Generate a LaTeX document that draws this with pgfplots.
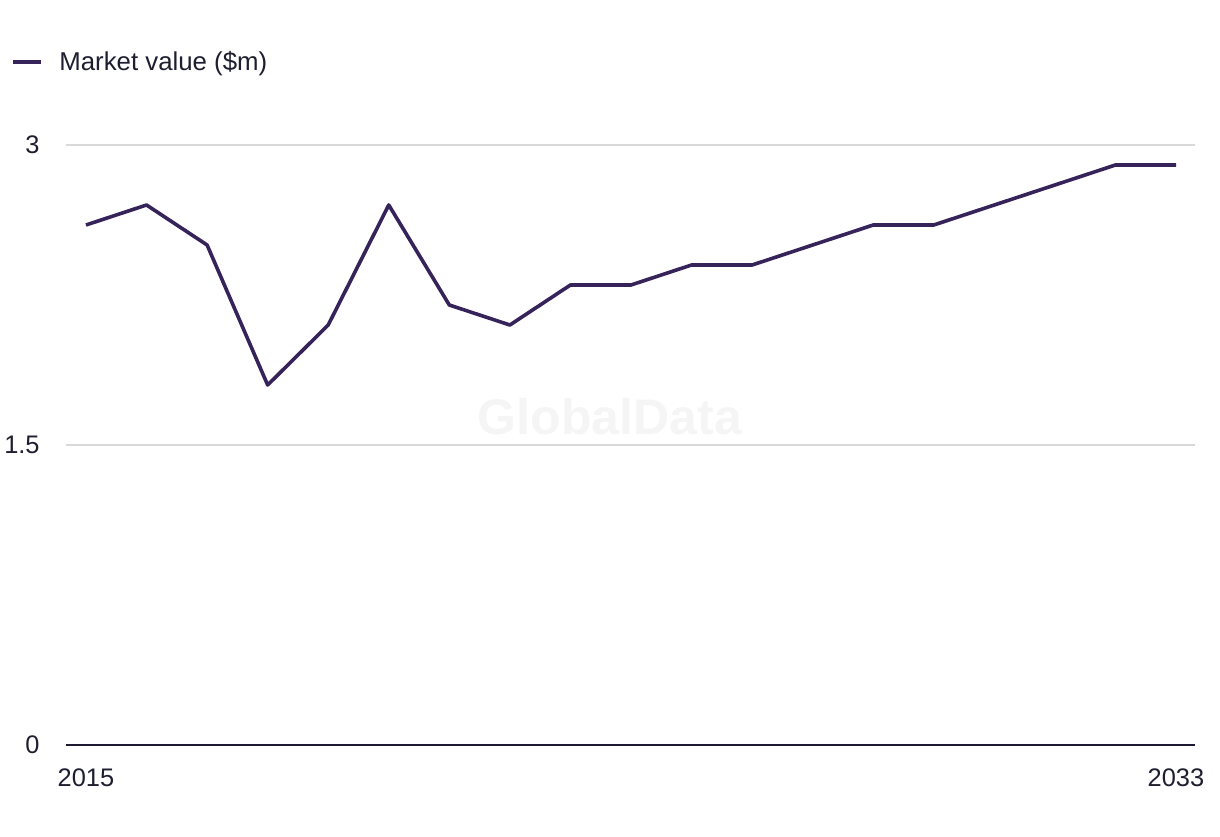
\documentclass[border=0pt]{standalone}
\usepackage{pgfplots}
\pgfplotsset{compat=1.18}
\usepackage{fontspec}
\setmainfont{Liberation Sans}
\definecolor{linecol}{HTML}{35235A}
\definecolor{txtcol}{HTML}{1E1E30}
\definecolor{gridcol}{HTML}{D9D9D9}
\definecolor{axiscol}{HTML}{1E1A33}
\definecolor{wmcol}{HTML}{F5F5F5}
\begin{document}
\begin{tikzpicture}[font=\fontsize{12.5pt}{15pt}\selectfont]
\useasboundingbox (-33pt,-45.5pt) rectangle (577pt,372.5pt);
\begin{axis}[
  at={(0pt,0pt)}, anchor=origin,
  scale only axis,
  width=564.5pt, height=300pt,
  xmin=2014.670, xmax=2033.314,
  ymin=0, ymax=3,
  xtick={2015,2033}, xticklabels={2015,2033},
  ytick={0,1.5,3}, yticklabels={0,1.5,3},
  major tick length=0pt,
  axis x line*=bottom, axis y line*=left,
  y axis line style={draw=none},
  x axis line style={-, draw=axiscol, line width=1pt},
  ymajorgrids, grid style={gridcol, line width=0.75pt},
  tick label style={text=txtcol, font=\fontsize{12.7pt}{15pt}\selectfont},
  yticklabel style={anchor=east, inner sep=0pt, xshift=-13pt},
  xticklabel style={anchor=north, inner sep=0pt, yshift=-11.5pt},
  /pgf/number format/assume math mode=true,
  clip=false,
  legend style={draw=none, fill=none, inner sep=0pt, at={(-0.0487,1.138)}, anchor=west,
    text=txtcol, font=\fontsize{12.9pt}{15pt}\selectfont,
    /tikz/every even column/.append style={column sep=0pt}},
  legend image code/.code={\draw[#1, line width=2pt] (0pt,0pt) -- (14pt,0pt);},
  legend cell align=left,
]
\node[text=wmcol, font=\fontsize{25pt}{30pt}\selectfont\bfseries] at (rel axis cs:0.4818,0.5467) {GlobalData};
\addplot[linecol, line width=1.8pt, line join=round, mark=none] coordinates {
(2015,2.6) (2016,2.7) (2017,2.5) (2018,1.8) (2019,2.1) (2020,2.7) (2021,2.2)
(2022,2.1) (2023,2.3) (2024,2.3) (2025,2.4) (2026,2.4) (2027,2.5) (2028,2.6)
(2029,2.6) (2030,2.7) (2031,2.8) (2032,2.9) (2033,2.9)
};
\addlegendentry{\hspace{6pt}Market value (\$m)}
\end{axis}
\end{tikzpicture}
\end{document}
